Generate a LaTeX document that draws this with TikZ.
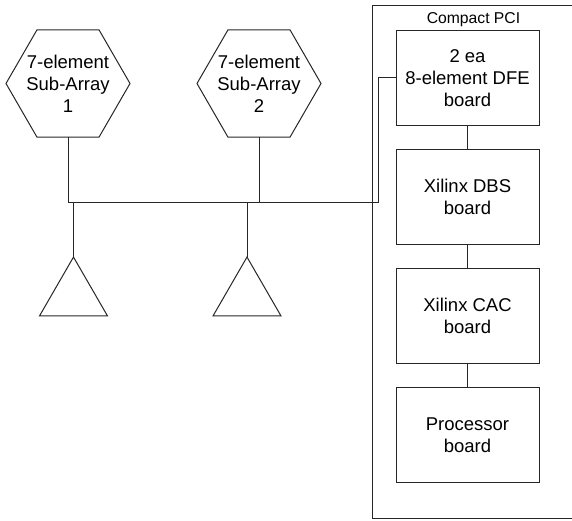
\documentclass[tikz,border=0pt]{standalone}
\usepackage{fontspec}
\setmainfont{Liberation Sans}
\usetikzlibrary{positioning,shapes.geometric}
\tikzset{
  sketchline/.style = {line width=1pt, black!85},
  subarray/.style = {sketchline, draw, regular polygon, regular polygon sides=6,
    minimum size=124pt, inner sep=0pt, outer sep=0pt},
  hextext/.style = {align=center, inner sep=0pt, text=black,
    font=\fontsize{18.5}{22}\selectfont},
  antenna/.style = {sketchline, draw, regular polygon, regular polygon sides=3,
    minimum size=78.5pt, inner sep=0pt, outer sep=0pt},
  board/.style = {sketchline, draw, text=black, minimum width=143pt, minimum height=95.3pt,
    inner sep=0pt, outer sep=0pt, align=center,
    font=\fontsize{18.5}{22}\selectfont},
}

\begin{document}
\begin{tikzpicture}[x=1pt, y=-1pt, node distance=23.8pt]
  \useasboundingbox (0,0) rectangle (572,520);
  \node[subarray, label={[hextext]center:7-element\\Sub-Array\\1}] (hexone) at (68,83.5) {};
  \node[subarray, label={[hextext]center:7-element\\Sub-Array\\2}] (hextwo) at (259,83.5) {};
  \node[antenna] (triaone) at (73.5,296.3) {};
  \node[antenna] (triatwo) at (247,296.3) {};

  \node[board] (dfe) at (467.5,77.7) {2 ea\\8-element DFE\\board};
  \node[board, below=of dfe] (dbs) {Xilinx DBS\\board};
  \node[board, below=of dbs] (cac) {Xilinx CAC\\board};
  \node[board, below=of cac] (proc) {Processor\\board};

  % chassis runs off the right edge
  \coordinate (pcitop) at (572,5.5);
  \coordinate (pcibot) at (572,518.5);
  \coordinate (pcicorner) at (372.5,5.5);
  \draw[sketchline] (pcitop) -- (pcicorner) |- (pcibot);
  \node[font=\fontsize{15.7}{18}\selectfont, inner sep=0pt] (pci) at (473.5,20) {Compact PCI};

  % bus
  \coordinate (busleft) at (68,202.5);
  \coordinate (busright) at (378,202.5);
  \draw[sketchline] (hexone.south) -- (busleft) -- (busright) |- (dfe.west);
  \draw[sketchline] (hextwo.south) -- (hextwo.south |- busleft);
  \draw[sketchline] (triaone.north) -- (triaone.north |- busleft);
  \draw[sketchline] (triatwo.north) -- (triatwo.north |- busleft);

  \draw[sketchline] (dfe) -- (dbs);
  \draw[sketchline] (dbs) -- (cac);
  \draw[sketchline] (cac) -- (proc);
\end{tikzpicture}
\end{document}
